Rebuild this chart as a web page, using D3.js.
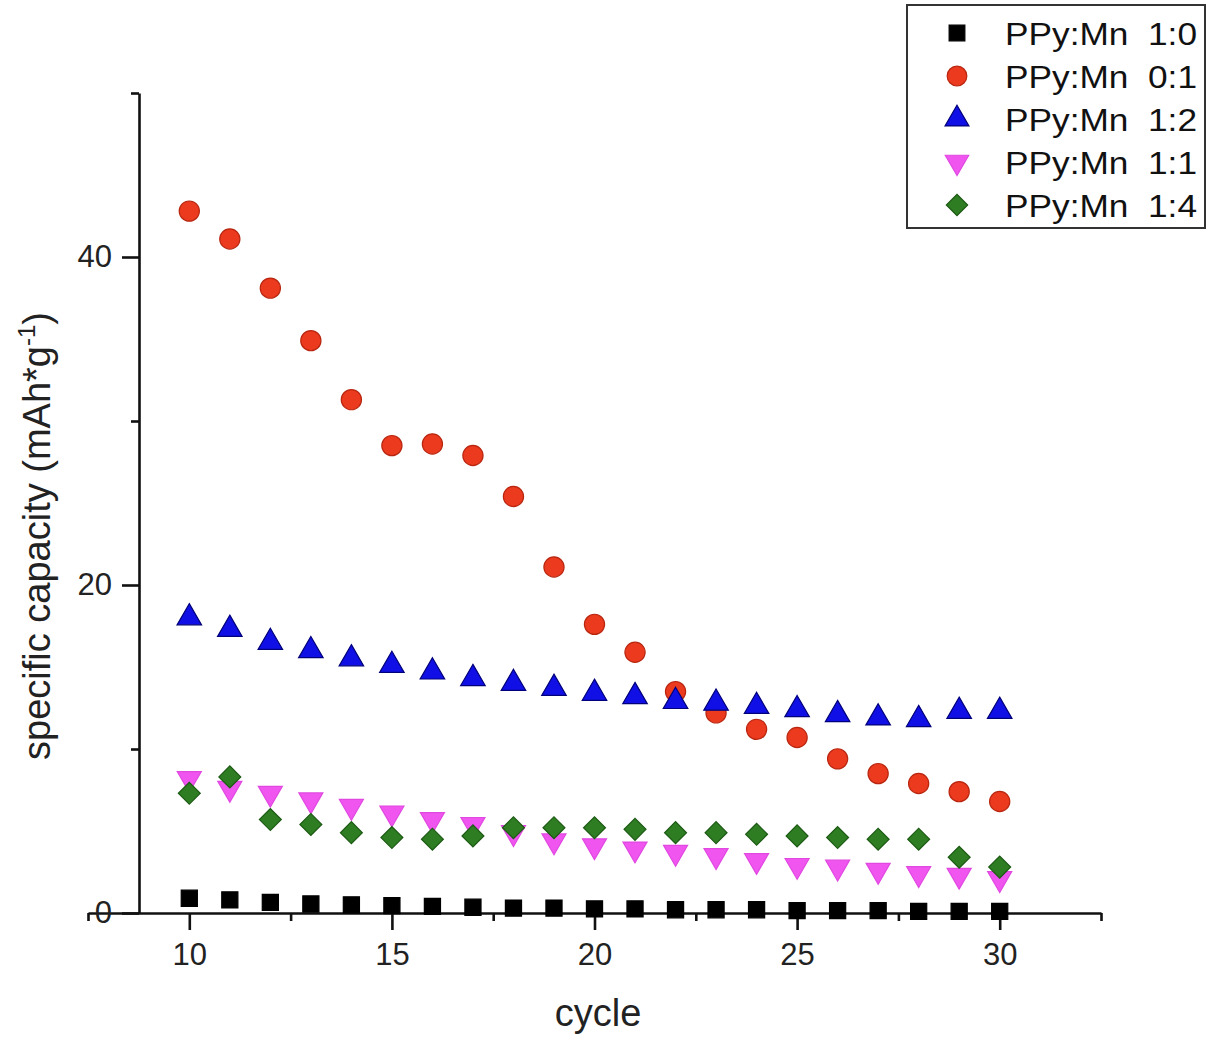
<!DOCTYPE html>
<html>
<head>
<meta charset="utf-8">
<script src="https://cdn.jsdelivr.net/npm/d3@7"></script>
<style>
  body { margin: 0; background: #fff; }
  svg { font-family: "Liberation Sans", Arial, sans-serif; }
  .legend text { white-space: pre; }
</style>
</head>
<body>
<svg id="chart" width="1216" height="1042"></svg>
<script>
// data
const cycles = d3.range(10, 31);   // 10 .. 30
const seriesNames = ["PPy:Mn  1:0", "PPy:Mn  0:1", "PPy:Mn  1:2", "PPy:Mn  1:1", "PPy:Mn  1:4"];
const ppy10 = [0.9, 0.8, 0.65, 0.55, 0.5, 0.45, 0.4, 0.35, 0.3, 0.3, 0.25, 0.25, 0.2, 0.2, 0.2, 0.15, 0.15, 0.15, 0.1, 0.1, 0.1];
const ppy01 = [42.8, 41.1, 38.1, 34.9, 31.3, 28.5, 28.6, 27.9, 25.4, 21.1, 17.6, 15.9, 13.5, 12.2, 11.2, 10.7, 9.4, 8.5, 7.9, 7.4, 6.8];
const ppy12 = [18.0, 17.3, 16.5, 16.0, 15.5, 15.1, 14.7, 14.3, 14.0, 13.7, 13.4, 13.2, 12.9, 12.8, 12.6, 12.4, 12.1, 11.9, 11.8, 12.3, 12.3];
const ppy11 = [8.2, 7.6, 7.3, 6.9, 6.5, 6.1, 5.7, 5.4, 4.9, 4.4, 4.1, 3.9, 3.7, 3.5, 3.2, 2.9, 2.8, 2.6, 2.4, 2.3, 2.1];
const ppy14 = [7.3, 8.3, 5.7, 5.4, 4.9, 4.6, 4.5, 4.7, 5.2, 5.2, 5.2, 5.1, 4.9, 4.9, 4.8, 4.7, 4.6, 4.5, 4.5, 3.4, 2.8];
const xMajor = [10, 15, 20, 25, 30];
const xMinor = [7.5, 12.5, 17.5, 22.5, 27.5, 32.5];
const yMajor = [0, 20, 40];
const yMinor = [10, 30, 50];

// styles per series
const styles = [
  { sym: d3.symbolSquare,   size: 260, fill: "#000000", stroke: "#000000", rot: 0 },
  { sym: d3.symbolCircle,   size: 320, fill: "#ec3a1f", stroke: "#b8260f", rot: 0 },
  { sym: d3.symbolTriangle, size: 260, fill: "#1010e6", stroke: "#00007a", rot: 0 },
  { sym: d3.symbolTriangle, size: 250, fill: "#f055f0", stroke: "#e048e0", rot: 180 },
  { sym: d3.symbolSquare,   size: 240, fill: "#2e7d22", stroke: "#1c5a14", rot: 45 }
];
const allSeries = [ppy10, ppy01, ppy12, ppy11, ppy14];

const svg = d3.select("#chart");

const x = d3.scaleLinear().domain([7.5, 32.5]).range([88, 1101]);
const y = d3.scaleLinear().domain([0, 50]).range([913, 93]);
const yAxisX = 139;

// axes
const axisColor = "#111";
function styleAxis(g) {
  g.selectAll("path, line").attr("stroke", axisColor).attr("stroke-width", 2.6);
  g.selectAll("text").attr("fill", "#222").style("font-size", "31px");
}

svg.append("g")
  .attr("transform", `translate(0,${y(0)})`)
  .call(d3.axisBottom(x).tickValues(xMinor).tickSize(8).tickSizeOuter(0).tickFormat(""))
  .call(styleAxis);
svg.append("g")
  .attr("transform", `translate(0,${y(0)})`)
  .call(d3.axisBottom(x).tickValues(xMajor).tickSize(17).tickSizeOuter(0).tickPadding(13))
  .call(styleAxis)
  .call(g => g.select(".domain").remove());

svg.append("g")
  .attr("transform", `translate(${yAxisX},0)`)
  .call(d3.axisLeft(y).tickValues(yMinor).tickSize(8).tickSizeOuter(0).tickFormat(""))
  .call(styleAxis);
svg.append("g")
  .attr("transform", `translate(${yAxisX},0)`)
  .call(d3.axisLeft(y).tickValues(yMajor).tickSize(17).tickSizeOuter(0).tickPadding(10))
  .call(styleAxis)
  .call(g => g.select(".domain").remove());

// axis titles
svg.append("text")
  .attr("x", 598).attr("y", 1026)
  .attr("text-anchor", "middle")
  .style("font-size", "38px").attr("fill", "#222")
  .text("cycle");

const yt = svg.append("text")
  .attr("transform", `translate(50,536) rotate(-90)`)
  .attr("text-anchor", "middle")
  .style("font-size", "38px").attr("fill", "#222");
yt.append("tspan").text("specific capacity (mAh*g");
yt.append("tspan").attr("dy", -15).style("font-size", "24px").text("-1");
yt.append("tspan").attr("dy", 15).text(")");

// markers
const markG = svg.append("g");
allSeries.forEach((vals, i) => {
  const st = styles[i];
  const sym = d3.symbol().type(st.sym).size(st.size);
  markG.append("g")
    .selectAll("path")
    .data(cycles.map((c, j) => ({ c, v: vals[j] })))
    .join("path")
      .attr("d", sym)
      .attr("transform", d => `translate(${x(d.c)},${y(d.v)}) rotate(${st.rot})`)
      .attr("fill", st.fill)
      .attr("stroke", st.stroke)
      .attr("stroke-width", 1.2);
});

// legend
const legend = svg.append("g").attr("class", "legend");
legend.append("rect")
  .attr("x", 907).attr("y", 5)
  .attr("width", 298).attr("height", 223)
  .attr("fill", "#fff")
  .attr("stroke", "#333").attr("stroke-width", 2);
seriesNames.forEach((name, i) => {
  const st = styles[i];
  const cy = 33 + i * 43;
  legend.append("path")
    .attr("d", d3.symbol().type(st.sym).size(st.size * 0.95)())
    .attr("transform", `translate(957,${cy}) rotate(${st.rot})`)
    .attr("fill", st.fill)
    .attr("stroke", st.stroke)
    .attr("stroke-width", 1.2);
  legend.append("text")
    .attr("x", 1005).attr("y", cy)
    .attr("dy", "0.36em")
    .attr("textLength", 192)
    .attr("lengthAdjust", "spacingAndGlyphs")
    .style("font-size", "32px").attr("fill", "#111")
    .text(name);
});
</script>
</body>
</html>
